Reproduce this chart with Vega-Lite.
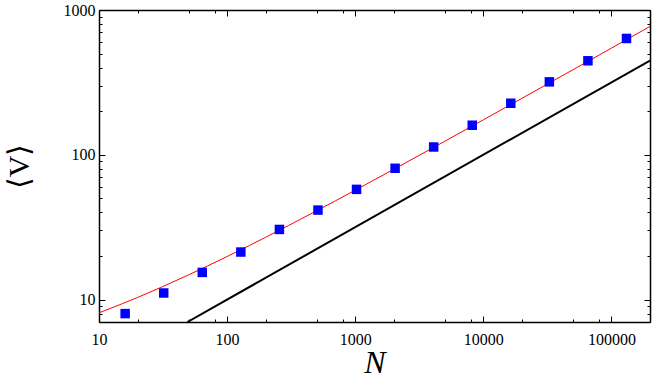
{
  "$schema": "https://vega.github.io/schema/vega-lite/v6.json",
  "autosize": "none",
  "width": 551,
  "height": 312,
  "padding": {"left": 99, "top": 10, "right": 4, "bottom": 56},
  "background": "white",
  "config": {
    "view": {"stroke": null},
    "axis": {
      "domainColor": "black",
      "domainWidth": 1.5,
      "tickColor": "black",
      "tickWidth": 1,
      "grid": false,
      "labelColor": "black",
      "labelFont": "Liberation Serif",
      "labelFontSize": 16,
      "titleColor": "black",
      "titleFontWeight": "normal"
    }
  },
  "datasets": {
    "fit": [
      {"N": 10, "V": 8.1}, {"N": 15, "V": 9.32}, {"N": 20, "V": 10.34}, {"N": 30, "V": 12.07},
      {"N": 50, "V": 14.8}, {"N": 70, "V": 17.03}, {"N": 100, "V": 19.83}, {"N": 150, "V": 23.69},
      {"N": 200, "V": 26.94}, {"N": 300, "V": 32.39}, {"N": 500, "V": 41.04}, {"N": 700, "V": 48.07},
      {"N": 1000, "V": 56.93}, {"N": 2000, "V": 79.41}, {"N": 5000, "V": 124.0}, {"N": 10000, "V": 174.3},
      {"N": 20000, "V": 245.4}, {"N": 50000, "V": 386.4}, {"N": 100000, "V": 545.3}, {"N": 200000, "V": 770.1}
    ],
    "ref": [
      {"N": 49, "V": 7}, {"N": 200000, "V": 447.2}
    ],
    "sim": [
      {"N": 16, "V": 8.0}, {"N": 32, "V": 11.1}, {"N": 64, "V": 15.4}, {"N": 128, "V": 21.3},
      {"N": 256, "V": 30.5}, {"N": 512, "V": 41.5}, {"N": 1024, "V": 57.7}, {"N": 2048, "V": 80.7},
      {"N": 4096, "V": 113.2}, {"N": 8192, "V": 160}, {"N": 16384, "V": 227}, {"N": 32768, "V": 319},
      {"N": 65536, "V": 446}, {"N": 131072, "V": 636}
    ]
  },
  "resolve": {"axis": {"x": "independent", "y": "independent"}},
  "layer": [
    {
      "data": {"name": "fit"},
      "mark": {"type": "line", "color": "#ff0000", "strokeWidth": 1, "clip": true},
      "encoding": {
        "x": {
          "field": "N", "type": "quantitative",
          "scale": {"type": "log", "domain": [10, 200000], "nice": false},
          "axis": {
            "orient": "bottom",
            "title": "N",
            "titleFont": "Liberation Serif",
            "titleFontStyle": "italic",
            "titleFontSize": 32,
            "titlePadding": -3,
            "values": [10, 20, 50, 80, 100, 200, 500, 800, 1000, 2000, 5000, 8000, 10000, 20000, 50000, 80000, 100000, 200000],
            "labelExpr": "indexof([10,100,1000,10000,100000], datum.value) >= 0 ? format(datum.value, 'd') : ''",
            "tickSize": {"condition": {"test": "indexof([10,100,1000,10000,100000], datum.value) >= 0", "value": -6}, "value": -3},
            "labelPadding": 15,
            "labelFlush": false,
            "labelOverlap": false
          }
        },
        "y": {
          "field": "V", "type": "quantitative",
          "scale": {"type": "log", "domain": [7, 1000], "nice": false},
          "axis": {
            "orient": "left",
            "title": "⟨V⟩",
            "titleFont": "Liberation Serif",
            "titleFontSize": 30,
            "titlePadding": 29,
            "values": [8, 9, 10, 20, 30, 40, 50, 60, 70, 80, 90, 100, 200, 300, 400, 500, 600, 700, 800, 900, 1000],
            "labelExpr": "indexof([10,100,1000], datum.value) >= 0 ? format(datum.value, 'd') : ''",
            "tickSize": {"condition": {"test": "indexof([10,100,1000], datum.value) >= 0", "value": -6}, "value": -3},
            "labelPadding": 10,
            "labelFlush": false,
            "labelOverlap": false
          }
        }
      }
    },
    {
      "data": {"name": "ref"},
      "mark": {"type": "line", "color": "black", "strokeWidth": 2, "clip": true},
      "encoding": {
        "x": {
          "field": "N", "type": "quantitative",
          "scale": {"type": "log", "domain": [10, 200000], "nice": false},
          "axis": {
            "orient": "top",
            "title": null,
            "labels": false,
            "values": [10, 20, 50, 80, 100, 200, 500, 800, 1000, 2000, 5000, 8000, 10000, 20000, 50000, 80000, 100000, 200000],
            "tickSize": {"condition": {"test": "indexof([10,100,1000,10000,100000], datum.value) >= 0", "value": -6}, "value": -3}
          }
        },
        "y": {
          "field": "V", "type": "quantitative",
          "scale": {"type": "log", "domain": [7, 1000], "nice": false},
          "axis": {
            "orient": "right",
            "title": null,
            "labels": false,
            "values": [8, 9, 10, 20, 30, 40, 50, 60, 70, 80, 90, 100, 200, 300, 400, 500, 600, 700, 800, 900, 1000],
            "tickSize": {"condition": {"test": "indexof([10,100,1000], datum.value) >= 0", "value": -6}, "value": -3}
          }
        }
      }
    },
    {
      "data": {"name": "sim"},
      "mark": {"type": "square", "color": "#0000ff", "opacity": 1, "size": 90, "clip": true},
      "encoding": {
        "x": {"field": "N", "type": "quantitative", "scale": {"type": "log", "domain": [10, 200000], "nice": false}, "axis": null},
        "y": {"field": "V", "type": "quantitative", "scale": {"type": "log", "domain": [7, 1000], "nice": false}, "axis": null}
      }
    }
  ]
}
